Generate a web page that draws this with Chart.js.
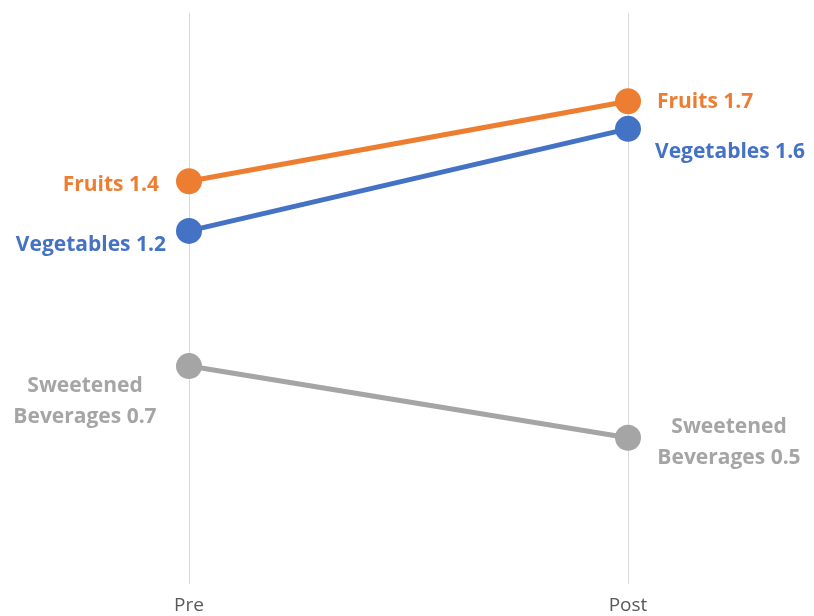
<!DOCTYPE html>
<html>
<head>
<meta charset="utf-8">
<script src="https://cdn.jsdelivr.net/npm/chart.js@4/dist/chart.umd.min.js"></script>
<style>
    html, body { margin: 0; padding: 0; background: #ffffff; overflow: hidden; }
    canvas { display: block; }
</style>
</head>
<body>
<canvas id="slopeChart" width="814" height="616"></canvas>
<script>
(function () {
    var periods = ['Pre', 'Post'];
    var seriesNames = ['Fruits', 'Vegetables', 'Sweetened Beverages'];
    var fruitsValues = [1.40, 1.69];
    var vegetablesValues = [1.22, 1.59];
    var beveragesValues = [0.73, 0.47];
    var seriesColors = ['#ED7D31', '#4472C4', '#A5A5A5'];

    // label placement per series / point: [dx, first baseline dy, align]
    var labelPlacement = [
        [[-30, 10, 'right'], [29, 7, 'left']],
        [[-23, 20, 'right'], [27, 29, 'left']],
        [[-104, 26, 'center'], [101, -5, 'center']]
    ];

    function labelLines(seriesIndex, value) {
        var text = value.toFixed(1);
        if (seriesIndex === 2) {
            return ['Sweetened', 'Beverages ' + text];
        }
        return [seriesNames[seriesIndex] + ' ' + text];
    }

    var pointLabels = {
        id: 'pointLabels',
        afterDatasetsDraw: function (chart) {
            var ctx = chart.ctx;
            ctx.save();
            ctx.font = 'bold 21px "Open Sans", sans-serif';
            ctx.textBaseline = 'alphabetic';
            chart.data.datasets.forEach(function (dataset, i) {
                var meta = chart.getDatasetMeta(i);
                meta.data.forEach(function (point, j) {
                    var place = labelPlacement[i][j];
                    var lines = labelLines(i, dataset.data[j]);
                    ctx.fillStyle = seriesColors[i];
                    ctx.textAlign = place[2];
                    lines.forEach(function (line, k) {
                        ctx.fillText(line, point.x + place[0], point.y + place[1] + k * 31);
                    });
                });
            });
            ctx.restore();
        }
    };

    var valueSets = [fruitsValues, vegetablesValues, beveragesValues];

    new Chart(document.getElementById('slopeChart'), {
        type: 'line',
        data: {
            labels: periods,
            datasets: seriesNames.map(function (name, i) {
                return {
                    label: name,
                    data: valueSets[i],
                    borderColor: seriesColors[i],
                    backgroundColor: seriesColors[i],
                    pointBackgroundColor: seriesColors[i],
                    pointBorderWidth: 0,
                    pointRadius: 13,
                    pointHoverRadius: 13,
                    borderWidth: 5,
                    tension: 0
                };
            })
        },
        options: {
            responsive: false,
            animation: false,
            layout: {
                padding: { left: 189, right: 186, top: 11, bottom: 0 }
            },
            plugins: {
                legend: { display: false },
                tooltip: { enabled: false }
            },
            scales: {
                x: {
                    offset: false,
                    border: { display: false },
                    grid: { color: '#D9D9D9', lineWidth: 1, drawTicks: false },
                    ticks: {
                        color: '#595959',
                        padding: 10,
                        font: { family: '"Open Sans", sans-serif', size: 19 }
                    },
                    afterFit: function (scale) {
                        scale.height = 32;
                    }
                },
                y: {
                    display: false,
                    min: -0.06,
                    max: 2.01
                }
            }
        },
        plugins: [pointLabels]
    });
})();
</script>
</body>
</html>
